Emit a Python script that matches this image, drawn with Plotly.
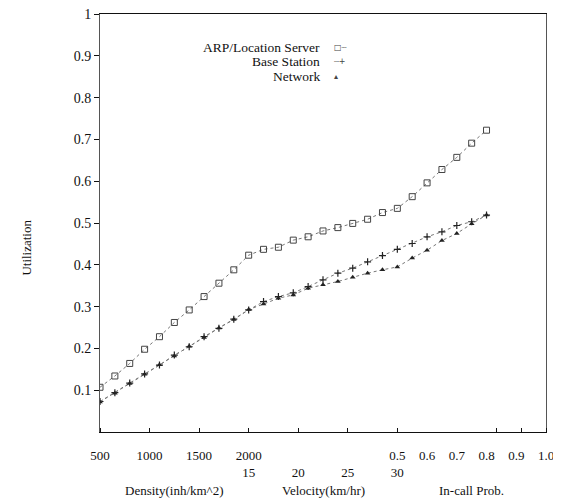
import plotly.graph_objects as go

# ---------------- data ----------------
density = [500, 650, 800, 950, 1100, 1250, 1400, 1550, 1700, 1850, 2000]
velocity = [16.5, 18, 19.5, 21, 22.5, 24, 25.5, 27, 28.5, 30]
incall = [0.55, 0.6, 0.65, 0.7, 0.75, 0.8]

arp_density = [0.107, 0.134, 0.164, 0.198, 0.228, 0.262, 0.292, 0.324, 0.356, 0.388, 0.423]
arp_velocity = [0.437, 0.442, 0.459, 0.467, 0.481, 0.489, 0.499, 0.509, 0.525, 0.535]
arp_incall = [0.563, 0.596, 0.628, 0.657, 0.691, 0.722]

bs_density = [0.073, 0.094, 0.117, 0.139, 0.160, 0.184, 0.204, 0.228, 0.248, 0.270, 0.292]
bs_velocity = [0.312, 0.324, 0.333, 0.348, 0.364, 0.380, 0.392, 0.407, 0.422, 0.437]
bs_incall = [0.451, 0.467, 0.479, 0.494, 0.503, 0.519]

net_density = [0.072, 0.093, 0.116, 0.138, 0.161, 0.182, 0.205, 0.226, 0.249, 0.269, 0.293]
net_velocity = [0.306, 0.320, 0.328, 0.344, 0.352, 0.360, 0.370, 0.380, 0.388, 0.395]
net_incall = [0.416, 0.435, 0.458, 0.475, 0.498, 0.519]

density_ticks = [500, 1000, 1500, 2000]
velocity_ticks = [15, 20, 25, 30]
incall_ticks = [0.5, 0.6, 0.7, 0.8, 0.9, 1.0]
incall_marks = [2 / 3, 5 / 6, 1.0]
y_ticks = [0.1, 0.2, 0.3, 0.4, 0.5, 0.6, 0.7, 0.8, 0.9, 1.0]

series_names = ["ARP/Location Server", "Base Station", "Network"]
axis_titles = ["Density(inh/km^2)", "Velocity(km/hr)", "In-call Prob."]


# composite x axis: three equal segments
def pos_d(d):
    return (d - 500) / 1500


def pos_v(v):
    return 1 + (v - 15) / 15


def pos_c(c):
    return 2 + (c - 0.5) / 0.5


x_all = [pos_d(d) for d in density] + [pos_v(v) for v in velocity] + [pos_c(c) for c in incall]

FONT = "Liberation Serif, Times New Roman, serif"
INK = "#111"

fig = go.Figure()
styles = [
    dict(symbol="square-open", size=6, color="#444", line=dict(width=1)),
    dict(symbol="cross-thin-open", size=5, color="#222", line=dict(width=1.2, color="#222")),
    dict(symbol="triangle-up", size=5, color="#222"),
]
ys = [
    arp_density + arp_velocity + arp_incall,
    bs_density + bs_velocity + bs_incall,
    net_density + net_velocity + net_incall,
]
for name, y, st in zip(series_names, ys, styles):
    fig.add_trace(go.Scatter(
        x=x_all, y=y, name=name, mode="lines+markers",
        line=dict(color="#777", width=1, dash="dot"),
        marker=st, showlegend=False,
    ))

# x tick labels (two rows)
labels = {}
for d in density_ticks:
    labels.setdefault(round(pos_d(d), 4), ["", ""])[0] = str(d)
for c in incall_ticks:
    labels.setdefault(round(pos_c(c), 4), ["", ""])[0] = f"{c:.1f}"
for v in velocity_ticks:
    labels.setdefault(round(pos_v(v), 4), ["", ""])[1] = str(v)
tickvals = sorted(labels)
ticktext = [labels[t][0] + "<br>" + labels[t][1] for t in tickvals]

minor_vals = sorted(set(
    [round(pos_d(d), 4) for d in density_ticks]
    + [round(pos_v(v), 4) for v in velocity_ticks]
    + [round(pos_c(0.5 + m * 0.5), 4) for m in incall_marks]
))

fig.update_xaxes(
    range=[0, 3], tickvals=tickvals, ticktext=ticktext,
    ticks="outside", ticklen=11, tickcolor="rgba(0,0,0,0)",
    automargin=False, ticklabeloverflow="allow",
    showgrid=False, zeroline=False, showline=True, linecolor=INK, linewidth=1,
    mirror=True, tickfont=dict(family=FONT, size=13, color=INK),
    minor=dict(tickmode="array", tickvals=minor_vals, ticks="inside", ticklen=4,
               tickcolor=INK, showgrid=False),
)
fig.update_yaxes(
    range=[0, 1], tickvals=y_ticks, automargin=False, ticklabeloverflow="allow",
    ticktext=[("1" if t == 1.0 else f"{t:.1f}") for t in y_ticks],
    ticks="outside", ticklen=5, tickcolor=INK,
    showgrid=False, zeroline=False, showline=True, linecolor="#555", linewidth=1,
    mirror=True, tickfont=dict(family=FONT, size=14, color=INK),
)

annotations = []
for i, t in enumerate(axis_titles):
    annotations.append(dict(x=i + 0.5, y=-0.139, xref="x", yref="paper", text=t,
                            showarrow=False, font=dict(family=FONT, size=13, color=INK),
                            xanchor="center", yanchor="middle"))
annotations.append(dict(x=-0.186, y=0.44, xref="paper", yref="paper", text="Utilization",
                        textangle=-90, showarrow=False,
                        font=dict(family=FONT, size=13, color=INK)))
# legend (text on the left, sample on the right)
leg_y = [0.921, 0.886, 0.851]
leg_sym = ["□┈", "┈+", "▴"]
for name, yy, sym in zip(series_names, leg_y, leg_sym):
    annotations.append(dict(x=0.498, y=yy, xref="paper", yref="paper", text=name,
                            showarrow=False, xanchor="right", yanchor="middle",
                            font=dict(family=FONT, size=13.5, color=INK)))
    annotations.append(dict(x=0.52, y=yy, xref="paper", yref="paper", text=sym,
                            showarrow=False, xanchor="left", yanchor="middle",
                            font=dict(family="DejaVu Sans", size=8, color="#444")))

# page body adds an 8px margin, so the figure is 8px smaller than the window
fig.update_layout(
    width=553, height=494,
    margin=dict(l=92, r=15, t=6, b=70),
    plot_bgcolor="white", paper_bgcolor="white",
    annotations=annotations,
    showlegend=False,
)

fig.write_html("out.html")
